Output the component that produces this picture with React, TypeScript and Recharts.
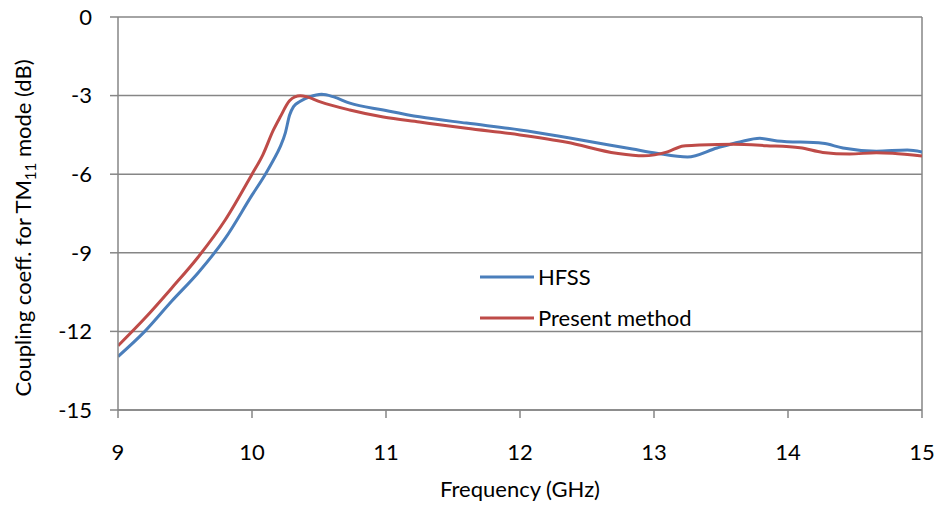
import { CartesianGrid, Line, LineChart, ReferenceLine, XAxis, YAxis } from "recharts";

const freqTicks = [9, 10, 11, 12, 13, 14, 15];
const dbTicks = [0, -3, -6, -9, -12, -15];

const hfssFreq = [
  9.0, 9.2, 9.4, 9.6, 9.8, 10.0, 10.1, 10.16, 10.21, 10.25, 10.28, 10.31, 10.36, 10.43, 10.52, 10.61, 10.73, 10.98,
  11.25, 11.6, 12.0, 12.35, 12.84, 13.02, 13.25, 13.47, 13.64, 13.79, 13.92, 14.26, 14.41, 14.66, 14.89, 15.0,
];
const hfssDb = [
  -12.96, -12.0, -10.85, -9.75, -8.45, -6.8, -6.0, -5.46, -4.96, -4.4, -3.75, -3.42, -3.22, -3.05, -2.95, -3.05, -3.29, -3.55,
  -3.81, -4.05, -4.31, -4.6, -5.04, -5.2, -5.34, -5.0, -4.77, -4.63, -4.73, -4.82, -5.0, -5.12, -5.08, -5.15,
];

const presentFreq = [
  9.0, 9.2, 9.4, 9.6, 9.8, 10.0, 10.08, 10.16, 10.21, 10.28, 10.32, 10.36, 10.41, 10.51, 10.73, 10.98, 11.25,
  11.6, 12.0, 12.35, 12.72, 12.92, 13.1, 13.22, 13.34, 13.59, 13.84, 14.09, 14.26, 14.46, 14.66, 14.78, 15.0,
];
const presentDb = [
  -12.55, -11.5, -10.35, -9.15, -7.75, -6.0, -5.27, -4.31, -3.82, -3.2, -3.05, -3.01, -3.05, -3.24, -3.55, -3.82, -4.01,
  -4.25, -4.5, -4.78, -5.2, -5.3, -5.15, -4.92, -4.89, -4.86, -4.91, -4.99, -5.17, -5.23, -5.18, -5.2, -5.31,
];

const hfssData = hfssFreq.map((f, i) => ({ f, v: hfssDb[i] }));
const presentData = presentFreq.map((f, i) => ({ f, v: presentDb[i] }));

const BLUE = "#4A7EBB";
const RED = "#BE4B48";
const AXIS = "#868686";
const FONT = "Lato, 'Open Sans', sans-serif";
const FS = 22;

const YTitle = () => (
  <text
    transform="translate(31, 228) rotate(-90)"
    textAnchor="middle"
    fontFamily={FONT}
    fontSize={FS}
    fill="#000"
  >
    Coupling coeff. for TM
    <tspan fontSize={15} dy={5}>11</tspan>
    <tspan dy={-5}> mode (dB)</tspan>
  </text>
);

export default function App() {
  return (
    <div style={{ position: "absolute", left: 0, top: 0, width: 941, height: 509, background: "#fff" }}>
      <LineChart width={941} height={509} margin={{ top: 17, right: 19, left: 0, bottom: 0 }}>
        <CartesianGrid vertical={false} stroke={AXIS} strokeWidth={1.5} />
        <XAxis
          type="number"
          dataKey="f"
          domain={[9, 15]}
          ticks={freqTicks}
          allowDataOverflow
          height={99}
          stroke={AXIS}
          strokeWidth={1.5}
          tickSize={8}
          tickMargin={26}
          tick={{ fill: "#000", fontSize: FS, fontFamily: FONT }}
          label={{
            value: "Frequency (GHz)",
            position: "insideBottom",
            offset: 12,
            fill: "#000",
            fontSize: FS,
            fontFamily: FONT,
          }}
        />
        <YAxis
          type="number"
          domain={[-15, 0]}
          ticks={dbTicks}
          width={118}
          stroke={AXIS}
          strokeWidth={1.5}
          tickSize={8}
          tickMargin={18}
          tick={{ fill: "#000", fontSize: FS, fontFamily: FONT }}
          label={<YTitle />}
        />
        <ReferenceLine x={15} stroke={AXIS} strokeWidth={1.5} />
        <Line
          data={hfssData}
          dataKey="v"
          type="monotone"
          stroke={BLUE}
          strokeWidth={3}
          dot={false}
          isAnimationActive={false}
        />
        <Line
          data={presentData}
          dataKey="v"
          type="monotone"
          stroke={RED}
          strokeWidth={3}
          dot={false}
          isAnimationActive={false}
        />
      </LineChart>
      <div style={{ position: "absolute", left: 480, top: 256, fontFamily: FONT, fontSize: FS, color: "#000" }}>
        {[
          { name: "HFSS", color: BLUE },
          { name: "Present method", color: RED },
        ].map((s) => (
          <div key={s.name} style={{ display: "flex", alignItems: "center", height: 41, lineHeight: "41px" }}>
            <svg width={54} height={6} style={{ marginRight: 4 }}>
              <line x1={0} y1={3} x2={54} y2={3} stroke={s.color} strokeWidth={3} />
            </svg>
            <span>{s.name}</span>
          </div>
        ))}
      </div>
    </div>
  );
}
